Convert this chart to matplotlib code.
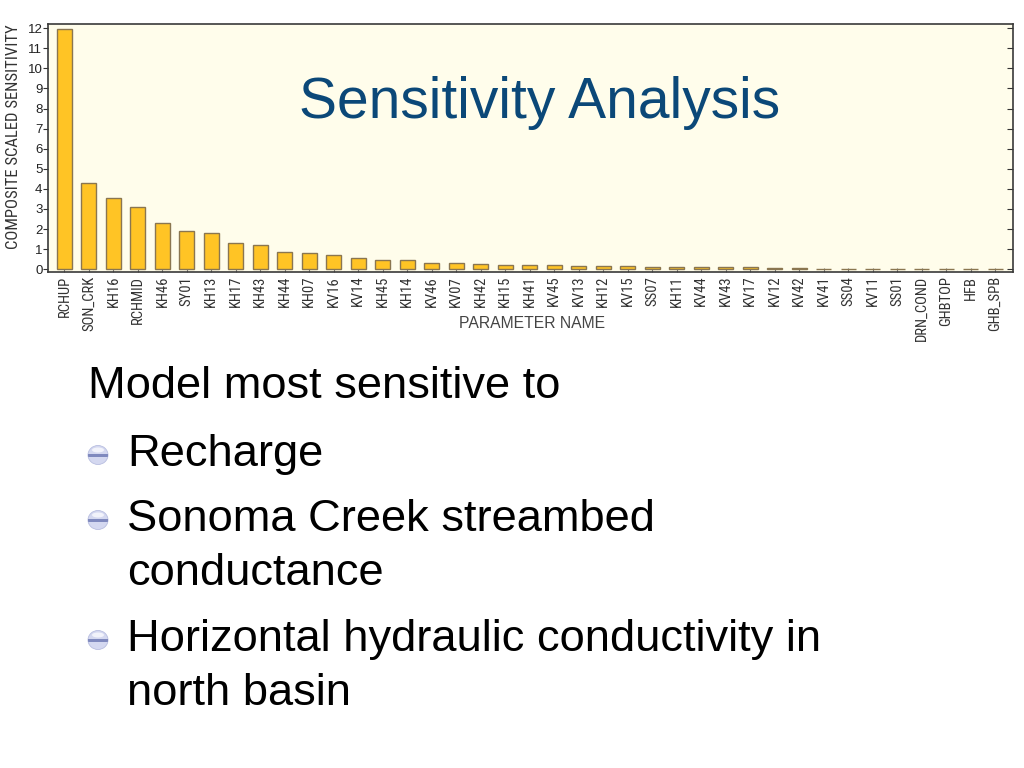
import matplotlib
matplotlib.use("Agg")
import matplotlib.pyplot as plt
from matplotlib import font_manager as fm
from matplotlib.patches import Ellipse, Rectangle

# ---------------- data ----------------
params = ["RCHUP", "SON_CRK", "KH16", "RCHMID", "KH46", "SY01", "KH13", "KH17",
          "KH43", "KH44", "KH07", "KV16", "KV14", "KH45", "KH14", "KV46", "KV07",
          "KH42", "KH15", "KH41", "KV45", "KV13", "KH12", "KV15", "SS07", "KH11",
          "KV44", "KV43", "KV17", "KV12", "KV42", "KV41", "SS04", "KV11", "SS01",
          "DRN_COND", "GHBTOP", "HFB", "GHB_SPB"]
css = [11.95, 4.30, 3.56, 3.11, 2.32, 1.92, 1.79, 1.29,
       1.19, 0.88, 0.83, 0.73, 0.56, 0.45, 0.46, 0.31, 0.30,
       0.25, 0.23, 0.20, 0.20, 0.18, 0.18, 0.18, 0.13, 0.13,
       0.13, 0.09, 0.09, 0.08, 0.08, 0.03, 0.03, 0.03, 0.02,
       0.02, 0.02, 0.02, 0.02]
yticks = list(range(0, 13))

title = "Sensitivity Analysis"
ylabel = "COMPOSITE SCALED SENSITIVITY"
xlabel = "PARAMETER NAME"
body_lines = [
    ("Model most sensitive to", False),
    ("Recharge", True),
    ("Sonoma Creek streambed", True),
    ("conductance", False),
    ("Horizontal hydraulic conductivity in", True),
    ("north basin", False),
]

# ---------------- fonts ----------------
def find_condensed():
    prefs = ["Liberation Sans Narrow", "Roboto Condensed", "Open Sans Condensed",
             "Noto Sans Condensed", "DejaVu Sans Condensed"]
    for p in prefs:
        for f in fm.fontManager.ttflist:
            if f.name == p and f.weight in (400, "normal", "regular") and f.style == "normal":
                return fm.FontProperties(fname=f.fname)
    for f in fm.fontManager.ttflist:
        if f.name == "DejaVu Sans" and f.stretch == "condensed" and f.style == "normal" \
                and f.weight in (400, "normal"):
            return fm.FontProperties(fname=f.fname)
    for f in fm.fontManager.ttflist:
        if "Condensed" in f.fname and "Bold" not in f.fname and "Oblique" not in f.fname \
                and "Italic" not in f.fname:
            return fm.FontProperties(fname=f.fname)
    return fm.FontProperties(family="DejaVu Sans", stretch="condensed")

cond = find_condensed()
plt.rcParams["font.family"] = ["Liberation Sans", "DejaVu Sans"]

W, H = 1024, 768
fig = plt.figure(figsize=(W / 100, H / 100), dpi=100)
fig.patch.set_facecolor("white")

# axes placement (pixels -> fraction)
left_px, right_px, top_px, bot_px = 48, 1013, 24.3, 271.7
ax = fig.add_axes([left_px / W, 1 - bot_px / H, (right_px - left_px) / W, (bot_px - top_px) / H])
ax.set_facecolor("#FFFDEB")

x = list(range(len(params)))
ax.bar(x, css, width=0.62, color="#FFC425", edgecolor="#8A7650", linewidth=1.0, zorder=3)

ax.set_xlim(-0.67, len(params) - 1 + 0.73)
ax.set_ylim(-0.12, 12.19)
ax.set_yticks(yticks)
ax.set_yticklabels([str(v) for v in yticks], fontsize=9.5, color="#222222")
ax.set_xticks(x)
ax.set_xticklabels(params, rotation=90, fontproperties=cond, fontsize=10.5, color="#333333")
ax.tick_params(axis="y", direction="out", length=3.5, width=0.8, colors="#333333", pad=0.5,
               right=True, labelright=False)
ax.tick_params(axis="y", which="major", labelcolor="#222222")
ax.tick_params(axis="x", direction="in", length=3, width=0.8, colors="#777777", pad=3,
               labelcolor="#333333")
# right ticks inward
for t in ax.yaxis.get_major_ticks():
    t.tick2line.set_marker(matplotlib.lines.TICKLEFT)
    t.tick2line.set_markersize(4)
for s in ax.spines.values():
    s.set_color("#3A3A3A")
    s.set_linewidth(1.2)

# axis labels placed in figure coords
fig.text(14 / W, 1 - 137 / H, ylabel, rotation=90, ha="center", va="center",
         fontproperties=cond, fontsize=12, color="#333333")
fig.text(532 / W, 1 - 323 / H, xlabel, ha="center", va="center",
         fontsize=11.3, color="#444444")

# title
fig.text(540 / W, 1 - 118 / H, title, ha="center", va="baseline",
         fontsize=41, color="#0B4878", family="Liberation Sans")

# body text with bullets
baselines = [398, 466, 531, 585, 651, 705]
for (txt, bullet), bl in zip(body_lines, baselines):
    xpx = 88 if txt.startswith("Model") else 127
    fig.text(xpx / W, 1 - bl / H, txt, ha="left", va="baseline",
             fontsize=32.6, color="black", family="Liberation Sans")
    if bullet:
        cx, cy = 98 / 100, (H - (bl - 11)) / 100
        tr = fig.dpi_scale_trans
        circ = Ellipse((cx, cy), 0.2, 0.19, transform=tr, facecolor="#D4D8F0",
                       edgecolor="#B8BEE0", linewidth=0.6)
        fig.add_artist(circ)
        band = Rectangle((cx - 0.1, cy - 0.02), 0.2, 0.035, transform=tr,
                         facecolor="#7F89BE", edgecolor="none")
        band.set_clip_path(circ)
        fig.add_artist(band)
        hl = Ellipse((cx, cy + 0.05), 0.12, 0.05, transform=tr, facecolor="#F2F3FB",
                     edgecolor="none")
        hl.set_clip_path(circ)
        fig.add_artist(hl)

fig.savefig("out.png", dpi=100, facecolor="white")
